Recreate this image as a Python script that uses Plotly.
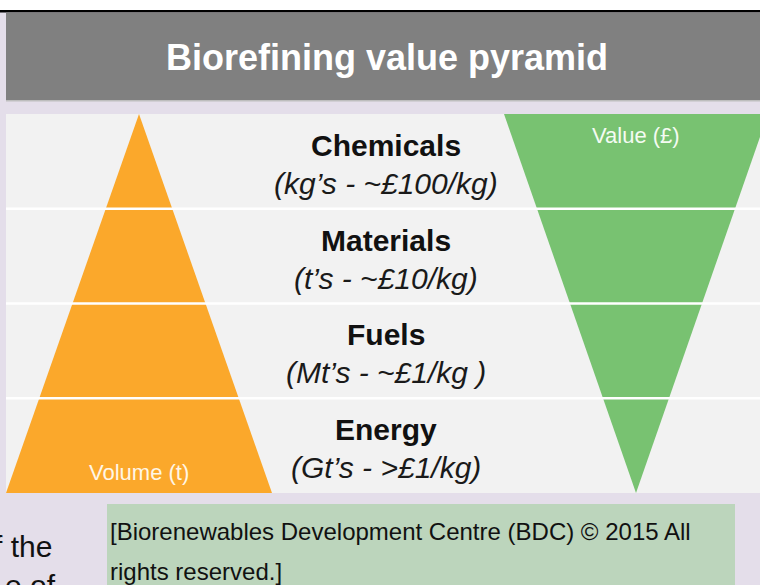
import plotly.graph_objects as go

# ---- data ----
tiers = ["Chemicals", "Materials", "Fuels", "Energy"]
tier_notes = ["(kg’s - ~£100/kg)", "(t’s - ~£10/kg)", "(Mt’s - ~£1/kg )", "(Gt’s - >£1/kg)"]
# relative width of each pyramid at the lower edge of each tier (0 = apex)
volume_width = [0.25, 0.50, 0.75, 1.00]   # volume pyramid widens downward
value_width = [0.75, 0.50, 0.25, 0.00]    # value pyramid narrows downward
title_text = "Biorefining value pyramid"
volume_label = "Volume (t)"
value_label = "Value (£)"
credit_lines = ["[Biorenewables Development Centre (BDC) © 2015 All", "rights reserved.]"]
side_text = ["f the", "e of"]

# ---- layout constants (pixels) ----
W, H = 760, 585
top_y, bot_y = 114, 493
row_h = (bot_y - top_y) / len(tiers)
vol_cx, vol_half = 139, 133
val_cx, val_half = 636, 132

ORANGE = "#FBA82B"
GREEN = "#78C271"
FONT = "Liberation Sans, Arial, sans-serif"

fig = go.Figure()

shapes = [
    dict(type="rect", x0=0, x1=W, y0=0, y1=H, fillcolor="#E4DEEA", line_width=0, layer="below"),
    dict(type="rect", x0=0, x1=W, y0=0, y1=10, fillcolor="#FFFFFF", line_width=0, layer="below"),
    dict(type="rect", x0=0, x1=W, y0=10, y1=12.5, fillcolor="#000000", line_width=0, layer="below"),
    dict(type="rect", x0=6, x1=W, y0=12.5, y1=100, fillcolor="#808080", line_width=0, layer="below"),
    dict(type="rect", x0=6, x1=W, y0=100, y1=101.5, fillcolor="#BDBDBD", line_width=0, layer="below"),
    dict(type="rect", x0=6, x1=W, y0=top_y, y1=bot_y, fillcolor="#F2F2F2", line_width=0, layer="below"),
    dict(type="rect", x0=107, x1=735, y0=504, y1=H, fillcolor="#BCD5BC", line_width=0, layer="below"),
]

prev_vol = 0.0
prev_val = 1.0
for i, name in enumerate(tiers):
    y0 = top_y + i * row_h
    y1 = y0 + row_h
    wv0, wv1 = prev_vol, volume_width[i]
    fig.add_trace(go.Scatter(
        x=[vol_cx - vol_half * wv0, vol_cx + vol_half * wv0, vol_cx + vol_half * wv1, vol_cx - vol_half * wv1],
        y=[y0, y0, y1, y1], fill="toself", fillcolor=ORANGE, mode="none",
        hoverinfo="text", text=name, showlegend=False))
    wg0, wg1 = prev_val, value_width[i]
    fig.add_trace(go.Scatter(
        x=[val_cx - val_half * wg0, val_cx + val_half * wg0, val_cx + val_half * wg1, val_cx - val_half * wg1],
        y=[y0, y0, y1, y1], fill="toself", fillcolor=GREEN, mode="none",
        hoverinfo="text", text=name, showlegend=False))
    prev_vol, prev_val = volume_width[i], value_width[i]
    if i > 0:
        shapes.append(dict(type="line", x0=6, x1=W, y0=y0, y1=y0,
                           line=dict(color="#FFFFFF", width=2.5), layer="above"))

annotations = [
    dict(x=387, y=57, text="<b>" + title_text + "</b>", showarrow=False,
         font=dict(family=FONT, size=36, color="#FFFFFF"), xanchor="center", yanchor="middle"),
    dict(x=636, y=135, text=value_label, showarrow=False,
         font=dict(family=FONT, size=22, color="#F4FBF2"), xanchor="center", yanchor="middle"),
    dict(x=139, y=472, text=volume_label, showarrow=False,
         font=dict(family=FONT, size=22, color="#FFF6E6"), xanchor="center", yanchor="middle"),
]
for i, (name, note) in enumerate(zip(tiers, tier_notes)):
    cy = top_y + (i + 0.5) * row_h
    annotations.append(dict(x=386, y=cy - 16, text="<b>" + name + "</b>", showarrow=False,
                            font=dict(family=FONT, size=30, color="#111111"),
                            xanchor="center", yanchor="middle"))
    annotations.append(dict(x=386, y=cy + 22, text="<i>" + note + "</i>", showarrow=False,
                            font=dict(family=FONT, size=30, color="#1A1A1A"),
                            xanchor="center", yanchor="middle"))

annotations.append(dict(x=108, y=531, text=credit_lines[0], showarrow=False,
                        font=dict(family=FONT, size=24, color="#111111"), xanchor="left", yanchor="middle"))
annotations.append(dict(x=108, y=571, text=credit_lines[1], showarrow=False,
                        font=dict(family=FONT, size=24, color="#111111"), xanchor="left", yanchor="middle"))
annotations.append(dict(x=54, y=546, text=side_text[0], showarrow=False,
                        font=dict(family=FONT, size=30, color="#111111"), xanchor="right", yanchor="middle"))
annotations.append(dict(x=58, y=585, text=side_text[1], showarrow=False,
                        font=dict(family=FONT, size=30, color="#111111"), xanchor="right", yanchor="middle"))

fig.update_layout(
    width=W, height=H, autosize=False,
    margin=dict(l=0, r=0, t=0, b=0),
    paper_bgcolor="#E4DEEA", plot_bgcolor="rgba(0,0,0,0)",
    xaxis=dict(range=[0, W], visible=False, fixedrange=True),
    yaxis=dict(range=[H, 0], visible=False, fixedrange=True),
    shapes=shapes, annotations=annotations, showlegend=False,
)

fig.write_html(
    "out.html",
    config={"displayModeBar": False},
    post_script="document.body.style.margin='0';document.body.style.overflow='hidden';",
)
